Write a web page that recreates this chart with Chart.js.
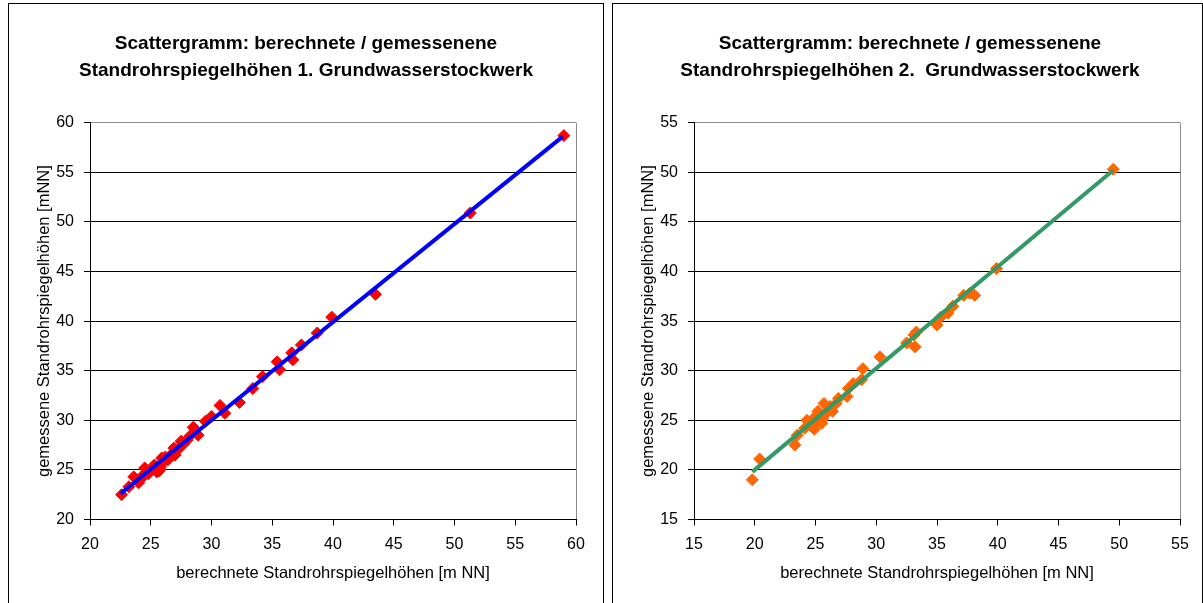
<!DOCTYPE html>
<html>
<head>
<meta charset="utf-8">
<script src="https://cdn.jsdelivr.net/npm/chart.js@4/dist/chart.umd.min.js"></script>
<style>
    body { margin: 0; background: #fff; }
    .panel { position: absolute; top: 3px; border: 1px solid #000; border-bottom: none; height: 600px; background: #fff; }
    #panel1 { left: 8px; width: 594px; }
    #panel2 { left: 612px; width: 589px; }
    canvas { display: block; }
</style>
</head>
<body>
<div class="panel" id="panel1"><canvas id="chart1" width="594" height="599"></canvas></div>
<div class="panel" id="panel2"><canvas id="chart2" width="589" height="599"></canvas></div>
<script>
// 1. Grundwasserstockwerk: berechnet (x) / gemessen (y)
const calcLeft = [22.6, 23.6, 24.0, 24.5, 25.5, 25.8, 26.2, 26.6, 27.0, 27.4, 28.0, 28.5, 28.9, 29.5, 30.0,
    30.7, 31.1, 32.3, 33.4, 34.2, 35.4, 35.6, 36.6, 36.7, 37.4, 38.7, 39.9, 43.5, 51.3, 59.0,
    23.2, 24.2, 24.8, 25.1, 25.3, 25.7, 26.0, 26.4, 26.8, 27.2, 27.7, 28.2, 24.4, 25.9, 26.9, 27.5];
const measLeft = [22.5, 24.3, 23.7, 25.2, 24.8, 25.3, 26.3, 26.3, 26.5, 27.3, 28.0, 29.3, 28.5, 29.9, 30.4,
    31.5, 30.7, 31.8, 33.2, 34.4, 35.9, 35.1, 36.8, 36.1, 37.6, 38.8, 40.4, 42.7, 50.9, 58.7,
    23.3, 24.1, 24.6, 25.0, 25.5, 24.9, 25.8, 26.0, 26.7, 27.0, 27.6, 28.4, 24.5, 26.2, 27.2, 27.9];
const trendLeftX = [22.5, 58.9];
const trendLeftY = [22.6, 58.6];

// 2. Grundwasserstockwerk
const calcRight = [19.8, 20.4, 23.3, 23.5, 24.1, 24.3, 24.8, 25.0, 25.2, 25.5, 25.7, 25.9, 26.2, 26.7, 26.9,
    27.6, 27.7, 28.1, 28.8, 28.9, 30.3, 32.5, 33.2, 33.1, 33.3, 35.0, 35.3, 35.9, 36.3, 37.2,
    37.7, 38.1, 39.9, 49.5, 24.6, 25.3, 26.0, 26.4, 24.9, 25.6];
const measRight = [19.0, 21.1, 22.5, 23.5, 24.2, 25.0, 24.4, 25.4, 25.9, 24.7, 26.7, 25.7, 26.4, 26.7, 27.2,
    27.4, 28.2, 28.7, 29.1, 30.2, 31.4, 32.8, 32.4, 33.6, 33.9, 34.6, 35.4, 35.8, 36.5, 37.6,
    37.8, 37.6, 40.3, 50.3, 24.8, 25.2, 26.0, 25.9, 24.1, 25.1];
const trendRightX = [19.8, 49.5];
const trendRightY = [19.8, 50.2];

const ticksLeft = [20, 60];
const ticksRight = [15, 55];

const xTitle = "berechnete Standrohrspiegelhöhen [m NN]";
const yTitle = "gemessene Standrohrspiegelhöhen [mNN]";
const titleLeft = ["Scattergramm: berechnete / gemessenene", "Standrohrspiegelhöhen 1. Grundwasserstockwerk"];
const titleRight = ["Scattergramm: berechnete / gemessenene", "Standrohrspiegelhöhen 2.  Grundwasserstockwerk"];

const fontFamily = "'Liberation Sans', Arial, sans-serif";

const toPoints = (xs, ys) => xs.map((x, i) => ({ x: x, y: ys[i] }));

const makeChart = (canvasId, title, xs, ys, tx, ty, range, pointColor, lineColor) => {
    const canvas = document.getElementById(canvasId);
    const side = canvas.width - 567;

    return new Chart(canvas, {
        type: "scatter",
        data: {
            datasets: [
                {
                    data: toPoints(tx, ty),
                    showLine: true,
                    borderColor: lineColor,
                    borderWidth: 4,
                    pointRadius: 0
                },
                {
                    data: toPoints(xs, ys),
                    pointStyle: "rectRot",
                    pointRadius: 6,
                    pointBackgroundColor: pointColor,
                    pointBorderColor: pointColor,
                    pointBorderWidth: 1
                }
            ]
        },
        options: {
            responsive: false,
            animation: false,
            layout: { padding: { left: 27, right: side, top: 0, bottom: 0 } },
            plugins: {
                legend: { display: false },
                tooltip: { enabled: false },
                title: {
                    display: true,
                    text: title,
                    color: "#000",
                    font: { family: fontFamily, size: 19, weight: "bold", lineHeight: 1.4 },
                    padding: { top: 26.7, bottom: 38.8 }
                }
            },
            scales: {
                x: {
                    min: range[0],
                    max: range[1],
                    afterFit: (scale) => { scale.height = 83.5; },
                    ticks: {
                        stepSize: 5,
                        color: "#000",
                        padding: 9,
                        maxRotation: 0,
                        font: { family: fontFamily, size: 16, lineHeight: 1.2 }
                    },
                    grid: {
                        color: (ctx) => (ctx.tick && ctx.tick.value === range[1] ? "#8c8c8c" : "rgba(0,0,0,0)"),
                        tickColor: "#000",
                        tickLength: 6
                    },
                    border: { display: true, color: "#000", width: 1 },
                    title: {
                        display: true,
                        text: xTitle,
                        color: "#000",
                        font: { family: fontFamily, size: 16.5, lineHeight: 1 },
                        padding: { top: 0, bottom: 21.75 }
                    }
                },
                y: {
                    min: range[0],
                    max: range[1],
                    afterFit: (scale) => { scale.width = 54; },
                    ticks: {
                        stepSize: 5,
                        color: "#000",
                        padding: 10,
                        font: { family: fontFamily, size: 16, lineHeight: 1.2 }
                    },
                    grid: {
                        color: (ctx) => (ctx.tick && ctx.tick.value === range[1] ? "#8c8c8c" : "#000"),
                        tickColor: "#000",
                        tickLength: 6
                    },
                    border: { display: true, color: "#000", width: 1 },
                    title: {
                        display: true,
                        text: yTitle,
                        color: "#000",
                        font: { family: fontFamily, size: 16.5, lineHeight: 1 },
                        padding: { top: 0, bottom: 0 }
                    }
                }
            }
        }
    });
};

makeChart("chart1", titleLeft, calcLeft, measLeft, trendLeftX, trendLeftY, ticksLeft, "#ff0000", "#0000ff");
makeChart("chart2", titleRight, calcRight, measRight, trendRightX, trendRightY, ticksRight, "#ff6600", "#339966");
</script>
</body>
</html>
